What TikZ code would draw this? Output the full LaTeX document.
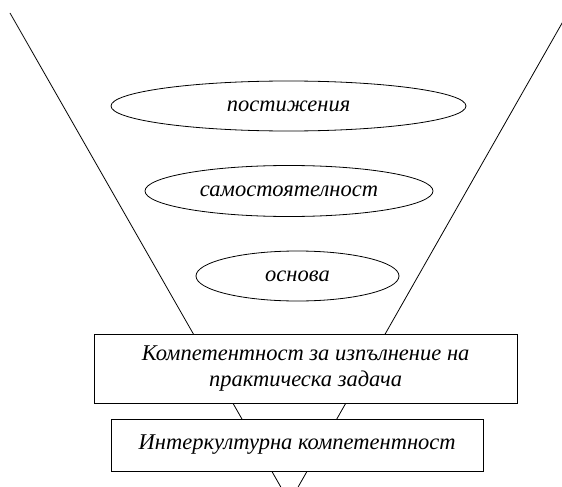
\documentclass[tikz,border=0pt]{standalone}
\usepackage{fontspec}
\setmainfont{Liberation Serif}
\usetikzlibrary{shapes.geometric}
\begin{document}
\begin{tikzpicture}[x=1pt,y=-1pt,
  funnel/.style={line width=0.8pt},
  oval/.style={draw,ellipse,line width=0.8pt,inner sep=0pt,fill=white,font=\fontsize{22.5}{26}\selectfont\itshape},
  boxnode/.style={draw,rectangle,line width=0.8pt,inner sep=0pt,fill=white,align=center,font=\fontsize{22.5}{26}\selectfont\itshape}]
\useasboundingbox (0,0) rectangle (562,487);
\begin{scope}
\clip (0,0) rectangle (562,487);
\draw[funnel] (10,13) -- (280.8,487);
\draw[funnel] (567.8,13) -- (298.1,487);
\end{scope}
\node[oval,minimum width=355pt,minimum height=50pt] (e1) at (288.5,106) {постижения};
\node[oval,minimum width=288pt,minimum height=51pt] (e2) at (289,191) {самостоятелност};
\node[oval,minimum width=203pt,minimum height=50pt] (e3) at (297.5,276) {основа};
\node[boxnode,minimum width=422.7pt,minimum height=69pt] (b1) at (305.6,368.5) {Компетентност за изпълнение на\\практическа задача};
\node[boxnode,minimum width=371.5pt,minimum height=52pt] (b2) at (297.2,445) {Интеркултурна компетентност};
\end{tikzpicture}
\end{document}
